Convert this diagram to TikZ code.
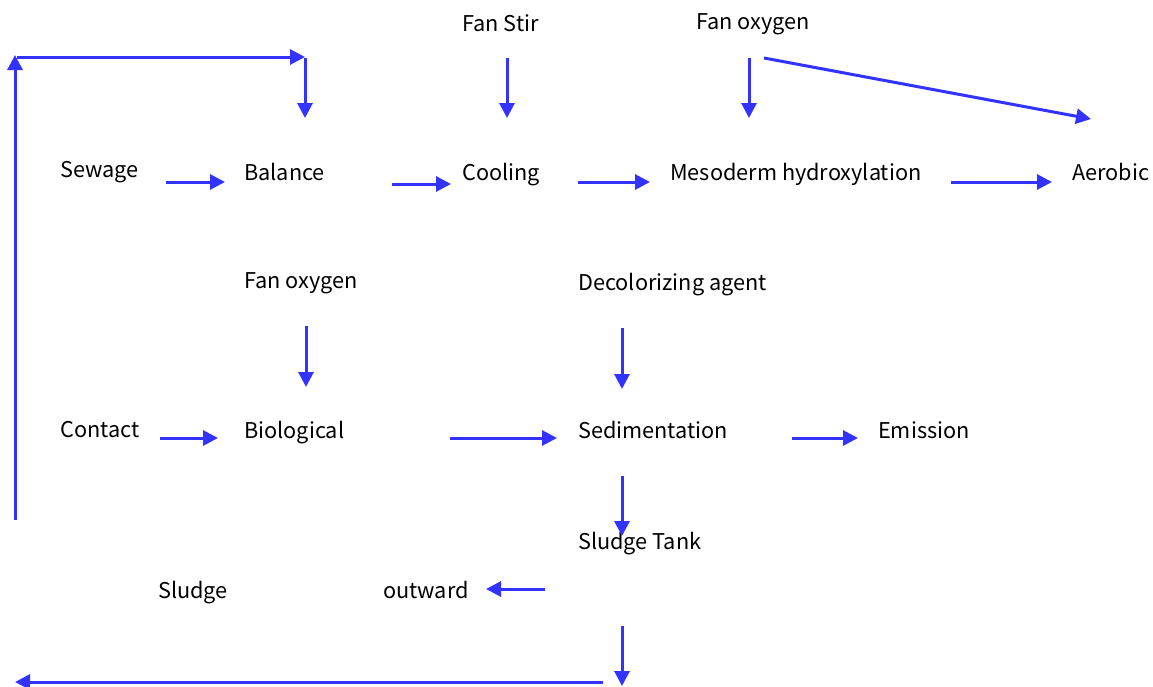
\documentclass[tikz,border=0pt]{standalone}
\usepackage{fontspec}
\setmainfont{Noto Sans CJK SC}
\usetikzlibrary{arrows.meta}
\definecolor{flowblue}{RGB}{51,51,255}
\tikzset{
  lbl/.style={anchor=base west, inner sep=0pt, font=\fontsize{21.7}{26}\selectfont, text=black},
  flow/.style={draw=flowblue, line width=3pt, -{Triangle[length=15pt,width=15pt]}}
}
\begin{document}
\begin{tikzpicture}[x=1pt,y=-1pt]
\useasboundingbox (0,0) rectangle (1153,686);
% labels
\node[lbl] (sewage) at (60,177) {Sewage};
\node[lbl] (balance) at (244,180) {Balance};
\node[lbl] (cooling) at (462,180) {Cooling};
\node[lbl] (meso) at (670,180) {Mesoderm hydroxylation};
\node[lbl] (aerobic) at (1072,180) {Aerobic};
\node[lbl] (fanstir) at (462,31) {Fan Stir};
\node[lbl] (fanoxa) at (696,29) {Fan oxygen};
\node[lbl] (fanoxb) at (244,288) {Fan oxygen};
\node[lbl] (decol) at (578,290) {Decolorizing agent};
\node[lbl] (contact) at (60,437) {Contact};
\node[lbl] (bio) at (244,438) {Biological};
\node[lbl] (sed) at (578,438) {Sedimentation};
\node[lbl] (emis) at (878,438) {Emission};
\node[lbl] (tank) at (578,549) {Sludge Tank};
\node[lbl] (sludge) at (158,598) {Sludge};
\node[lbl] (outw) at (383,598) {outward};
% connector end points
\coordinate (loopA) at (15,520);
\coordinate (loopB) at (15,55);
\coordinate (loopC) at (17,57);
\coordinate (loopD) at (305,57);
\coordinate (loopE) at (305,58);
\coordinate (loopF) at (305,118);
\coordinate (s1) at (166,182); \coordinate (s2) at (225,182);
\coordinate (b1) at (392,184); \coordinate (b2) at (451,184);
\coordinate (c1) at (578,182); \coordinate (c2) at (650,182);
\coordinate (m1) at (951,182); \coordinate (m2) at (1052,182);
\coordinate (f1) at (507,58); \coordinate (f2) at (507,118);
\coordinate (o1) at (749,58); \coordinate (o2) at (749,118);
\coordinate (o3) at (764,58); \coordinate (o4) at (1091,119);
\coordinate (g1) at (306,326); \coordinate (g2) at (306,387);
\coordinate (d1) at (622,328); \coordinate (d2) at (622,389);
\coordinate (k1) at (160,438); \coordinate (k2) at (218,438);
\coordinate (i1) at (450,438); \coordinate (i2) at (557,438);
\coordinate (e1) at (792,438); \coordinate (e2) at (858,438);
\coordinate (t1) at (622,476); \coordinate (t2) at (622,536);
\coordinate (w1) at (545,589); \coordinate (w2) at (486,589);
\coordinate (u1) at (622,626); \coordinate (u2) at (622,686);
\coordinate (r1) at (603,682); \coordinate (r2) at (15,682);
% connectors
\draw[flow] (loopA) -- (loopB);
\draw[flow] (loopC) -- (loopD);
\draw[flow] (loopE) -- (loopF);
\draw[flow] (s1) -- (s2);
\draw[flow] (b1) -- (b2);
\draw[flow] (c1) -- (c2);
\draw[flow] (m1) -- (m2);
\draw[flow] (f1) -- (f2);
\draw[flow] (o1) -- (o2);
\draw[flow] (o3) -- (o4);
\draw[flow] (g1) -- (g2);
\draw[flow] (d1) -- (d2);
\draw[flow] (k1) -- (k2);
\draw[flow] (i1) -- (i2);
\draw[flow] (e1) -- (e2);
\draw[flow] (t1) -- (t2);
\draw[flow] (w1) -- (w2);
\draw[flow] (u1) -- (u2);
\draw[flow] (r1) -- (r2);
\end{tikzpicture}
\end{document}
